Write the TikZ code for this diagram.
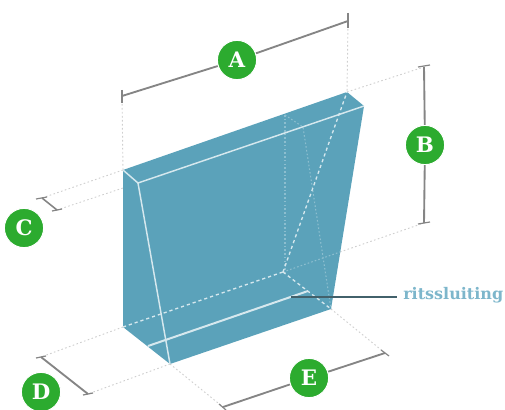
\documentclass[tikz,border=0pt]{standalone}
\usepackage{fontspec}
\setmainfont{DejaVu Serif}
\definecolor{teal1}{HTML}{5BA2BA}
\definecolor{green1}{HTML}{2CAB2F}
\definecolor{dim}{HTML}{858585}
\definecolor{dots}{HTML}{CFCFCF}
\definecolor{lbl}{HTML}{7DB6CB}
\tikzset{
  dimline/.style={draw=dim,line width=1.4pt},
  tickline/.style={draw=dim,line width=0.9pt},
  guide/.style={draw=dots,line width=0.7pt,dash pattern=on 1.2pt off 1.8pt},
  edgeline/.style={draw=white!75!teal1,line width=1.1pt},
  hiddenline/.style={draw=white!75!teal1,line width=1pt,dash pattern=on 2.4pt off 2.2pt},
  innerdots/.style={draw=white!30!teal1,line width=0.8pt,dash pattern=on 1.2pt off 1.6pt},
  badge/.style={circle,fill=green1,draw=white,line width=0.8pt,minimum size=29.5pt,inner sep=0pt,text=white,font=\fontsize{16}{16}\selectfont\bfseries},
}
\begin{document}
\begin{tikzpicture}[x=0.75pt,y=-0.75pt]
\useasboundingbox (0,0) rectangle (505,409);
% body corners
\coordinate (tl) at (123,170);
\coordinate (tr) at (347,92);
\coordinate (fr) at (364,106);
\coordinate (br) at (331,309);
\coordinate (bf) at (170,364);
\coordinate (bl) at (123,327);
\coordinate (ft) at (138,183);
\coordinate (in) at (283,272);
\coordinate (ib) at (285,115);
\coordinate (im) at (303,127);
\coordinate (zl) at (148,346);
\coordinate (zr) at (308,291);
\coordinate (al) at (122,96);
\coordinate (ar) at (348,21);
\coordinate (bt) at (424,67);
\coordinate (bb) at (424,223);
\coordinate (cu) at (42,198);
\coordinate (cd) at (57,210);
\coordinate (du) at (41,357);
\coordinate (dd) at (88,394);
\coordinate (el) at (223,407);
\coordinate (er) at (385,353);
\coordinate (bh) at (340,252);
\coordinate (zt) at (291,297);
% guides outside
\draw[guide] (al) -- (tl);
\draw[guide] (ar) -- (tr);
\draw[guide] (tl) -- (cu);
\draw[guide] (ft) -- (cd);
\draw[guide] (bl) -- (du);
\draw[guide] (bf) -- (dd);
\draw[guide] (bf) -- (el);
\draw[guide] (br) -- (er);
\draw[guide] (tr) -- (bt);
\draw[guide] (bh) -- (bb);
% body
\fill[teal1] (tl) -- (tr) -- (fr) -- (br) -- (bf) -- (bl) -- cycle;
% inner dotted
\draw[innerdots] (ib) -- (285,272);
\draw[innerdots] (ib) -- (im) -- (br);
\draw[innerdots] (in) -- (bh);
% hidden edges
\draw[hiddenline] (bl) -- (in);
\draw[hiddenline] (in) -- (tr);
\draw[hiddenline] (in) -- (br);
% visible edges
\draw[edgeline] (tl) -- (ft) -- (fr);
\draw[edgeline] (ft) -- (bf);
\draw[edgeline,line width=1.5pt] (zl) -- (zr);
% dimension lines
\node[badge] (A) at (237,60) {A};
\node[badge] (B) at (425,145) {B};
\node[badge] (C) at (24,228) {C};
\node[badge] (D) at (41,392) {D};
\node[badge] (E) at (309,378) {E};
\draw[dimline] (al) -- (A);
\draw[dimline] (A) -- (ar);
\draw[dimline] (bt) -- (B);
\draw[dimline] (B) -- (bb);
\draw[dimline,line width=1.2pt] (cu) -- (cd);
\draw[dimline] (du) -- (dd);
\draw[dimline] (el) -- (E);
\draw[dimline] (E) -- (er);
% ticks
\draw[tickline] (122,90) -- (122,103);
\draw[tickline] (348,13) -- (348,28);
\draw[tickline] (418,67) -- (430,65);
\draw[tickline] (418,224) -- (430,222);
\draw[tickline] (36,199) -- (47,197);
\draw[tickline] (52,211) -- (62,209);
\draw[tickline] (36,358) -- (46,356);
\draw[tickline] (83,395) -- (93,393);
\draw[tickline] (219,404) -- (226,410);
\draw[tickline] (381,350) -- (389,356);
% label
\node[anchor=west,inner sep=0pt,text=lbl,font=\fontsize{12}{13}\selectfont\bfseries] (zip) at (403,295) {ritssluiting};
\draw[draw=black!45!teal1!80!gray,line width=1.7pt] (zt) -- (397,297);
\end{tikzpicture}
\end{document}
